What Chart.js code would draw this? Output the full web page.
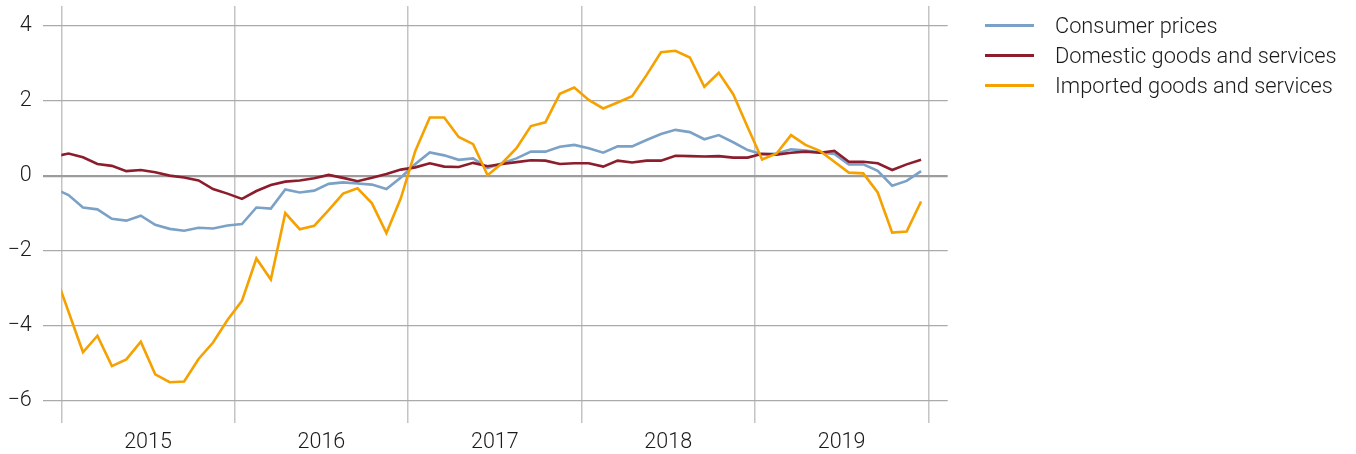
<!DOCTYPE html>
<html>
<head>
<meta charset="utf-8">
<script src="https://cdn.jsdelivr.net/npm/chart.js@4"></script>
<style>
  body { margin: 0; background: #fff; }
  #wrap { position: relative; width: 1356px; height: 454px; }
  #legend { position: absolute; left: 985px; top: 11px; font-family: Roboto, "Liberation Sans", sans-serif; font-weight: 300; font-size: 21.8px; color: #1a1a1a; }
  .item { height: 29.8px; display: flex; align-items: center; }
  .swatch { width: 49px; height: 3px; margin-right: 21px; }
</style>
</head>
<body>
<div id="wrap">
  <canvas id="chart" width="1356" height="454"></canvas>
  <div id="legend"></div>
</div>
<script>
// monthly, Dec 2014 .. Dec 2019 (first point sits just left of the plot and is clipped)
const months = [];
for (let y = 2014; y <= 2019; y++) {
    for (let m = 1; m <= 12; m++) {
        if (y === 2014 && m < 12) continue;
        months.push(y + "-" + String(m).padStart(2, "0"));
    }
}

const consumerPrices = [
    -0.33,
    -0.51, -0.84, -0.89, -1.14, -1.19, -1.06, -1.30, -1.41, -1.46, -1.38, -1.40, -1.32,
    -1.28, -0.84, -0.87, -0.36, -0.44, -0.39, -0.21, -0.17, -0.20, -0.23, -0.35, -0.04,
     0.32,  0.63,  0.55,  0.43,  0.47,  0.21,  0.34,  0.47,  0.65,  0.65,  0.78,  0.83,
     0.74,  0.62,  0.79,  0.79,  0.96,  1.12,  1.23,  1.17,  0.98,  1.09,  0.90,  0.69,
     0.58,  0.60,  0.71,  0.68,  0.63,  0.59,  0.31,  0.31,  0.14, -0.26, -0.13,  0.13
];

const domesticGoods = [
     0.52,
     0.60,  0.50,  0.32,  0.27,  0.13,  0.16,  0.10,  0.01, -0.04, -0.12, -0.35, -0.47,
    -0.61, -0.40, -0.24, -0.15, -0.12, -0.06,  0.03, -0.05, -0.14, -0.05,  0.05,  0.17,
     0.23,  0.34,  0.25,  0.24,  0.35,  0.26,  0.32,  0.37,  0.42,  0.41,  0.32,  0.34,
     0.34,  0.25,  0.41,  0.36,  0.41,  0.41,  0.54,  0.53,  0.52,  0.53,  0.49,  0.49,
     0.59,  0.57,  0.62,  0.65,  0.62,  0.67,  0.38,  0.38,  0.34,  0.16,  0.31,  0.43
];

const importedGoods = [
    -2.54,
    -3.62, -4.70, -4.26, -5.07, -4.89, -4.42, -5.29, -5.50, -5.48, -4.88, -4.44, -3.84,
    -3.33, -2.20, -2.76, -0.99, -1.42, -1.33, -0.91, -0.47, -0.33, -0.73, -1.52, -0.59,
     0.67,  1.56,  1.56,  1.04,  0.85,  0.02,  0.34,  0.74,  1.33,  1.43,  2.19,  2.36,
     2.03,  1.80,  1.96,  2.13,  2.69,  3.30,  3.34,  3.16,  2.38,  2.75,  2.18,  1.30,
     0.44,  0.60,  1.09,  0.83,  0.67,  0.38,  0.09,  0.07, -0.44, -1.51, -1.48, -0.68
];

const seriesNames = ["Consumer prices", "Domestic goods and services", "Imported goods and services"];
const yearTicks = [2015, 2016, 2017, 2018, 2019, 2020];
const yTicks = [-6, -4, -2, 0, 2, 4];

const colors = ["#7ba2c6", "#8c1d2c", "#f5a100"];
const FONT = { family: "Roboto, 'Liberation Sans', sans-serif", size: 21.5, weight: "300" };

// month label -> decimal year at mid-month
function monthPos(label) {
    const [y, m] = label.split("-").map(Number);
    return y + (m - 0.5) / 12;
}
function toPoints(values) {
    return values.map((v, i) => ({ x: monthPos(months[i]), y: v }));
}

const clipArea = { left: -18.6, right: 0, top: false, bottom: false };

const chart = new Chart(document.getElementById("chart"), {
    type: "line",
    data: {
        datasets: [consumerPrices, domesticGoods, importedGoods].map((vals, i) => ({
            label: seriesNames[i],
            data: toPoints(vals),
            borderColor: colors[i],
            backgroundColor: colors[i],
            borderWidth: 2.6,
            pointRadius: 0,
            tension: 0,
            clip: clipArea
        })).reverse()
    },
    options: {
        responsive: false,
        animation: false,
        devicePixelRatio: 1,
        layout: { padding: { top: 6, right: 408.3, bottom: 0, left: 0 } },
        plugins: { legend: { display: false }, tooltip: { enabled: false } },
        scales: {
            x: {
                type: "linear",
                min: 2014.8927,
                max: 2020.1119,
                afterBuildTicks: s => {
                    const t = [];
                    yearTicks.forEach((y, i) => {
                        t.push({ value: y });
                        if (i < yearTicks.length - 1) t.push({ value: y + 0.5 });
                    });
                    s.ticks = t;
                },
                afterFit: s => { s.height = 31; s.paddingLeft = 0; s.paddingRight = 0; },
                border: { display: false },
                grid: {
                    drawTicks: false,
                    color: c => (c.tick && c.tick.value % 1 === 0) ? "#c4c4c4" : "rgba(0,0,0,0)",
                    lineWidth: 1.5
                },
                ticks: {
                    autoSkip: false,
                    maxRotation: 0,
                    padding: 7,
                    color: "#1a1a1a",
                    font: FONT,
                    callback: v => (v % 1 !== 0) ? String(Math.floor(v)) : ""
                }
            },
            y: {
                min: -6.587,
                max: 4.533,
                afterBuildTicks: s => { s.ticks = yTicks.map(v => ({ value: v })); },
                afterFit: s => { s.width = 42.7; s.paddingTop = 0; s.paddingBottom = 0; },
                border: { display: false },
                grid: {
                    drawTicks: false,
                    color: c => c.tick && c.tick.value === 0 ? "#9c9c9c" : "#aaaaaa",
                    lineWidth: c => c.tick && c.tick.value === 0 ? 2.2 : 1.2
                },
                ticks: {
                    padding: 11,
                    color: "#1a1a1a",
                    font: FONT,
                    callback: v => String(v).replace("-", "\u2212")
                }
            }
        }
    }
});

// legend beside the plot
const legend = document.getElementById("legend");
seriesNames.forEach((name, i) => {
    legend.innerHTML += `
        <div class="item">
            <span class="swatch" style="background:${colors[i]}"></span>
            <span>${name}</span>
        </div>`;
});
</script>
</body>
</html>
